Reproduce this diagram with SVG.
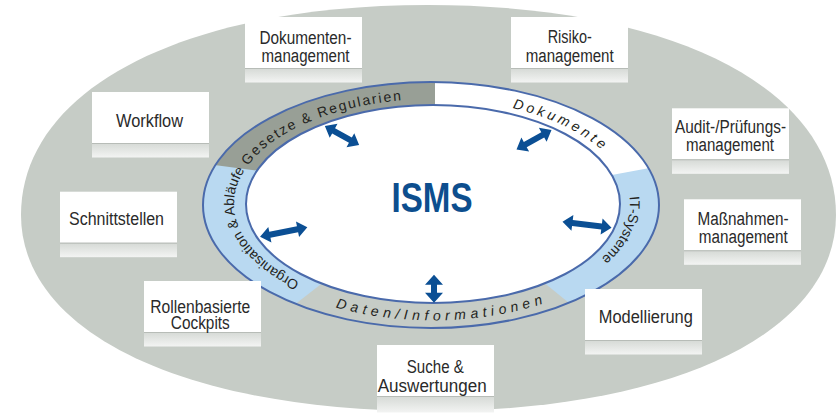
<svg xmlns="http://www.w3.org/2000/svg" width="838" height="417" viewBox="0 0 838 417">
<style>
.box{fill:#ffffff}
.shade{fill:url(#sh)}
.sep{stroke:#b7bcb7;stroke-width:1}
.lbl{font-family:"Liberation Sans",Arial,sans-serif;font-size:18px;fill:#2a2a2a;text-anchor:middle;}
.ring{font-family:"Liberation Sans",Arial,sans-serif;font-size:14px;fill:#231f20}
.arr{fill:#0b4f94}
</style>
<defs>
<linearGradient id="sh" x1="0" y1="0" x2="0" y2="1">
<stop offset="0" stop-color="#d6dad6"/>
<stop offset="1" stop-color="#f3f4f3"/>
</linearGradient>
<clipPath id="outerClip"><ellipse cx="431" cy="205" rx="228" ry="123"/></clipPath>
<path id="pGes" d="M 247.7 165.9 A 198 105 0 0 1 531 113.1"/>
<path id="pDok" d="M 512.5 108.1 A 198 105 0 0 1 627 185.8"/>
<path id="pIT" d="M 629.5 196.7 A 198 105 0 0 1 531 294.9"/>
<path id="pOrg" d="M 299.5 282 A 198 105 0 0 1 269.8 143.8"/>
<path id="pDat" d="M 335.8 307.4 A 212 116 0 0 0 578 289"/>
</defs>

<path id="background" d="M 21 215 C 21 89 183.8 5 428 5 C 673 5 836 89 836 215 C 836 332.6 673.6 411 430 411 C 184.6 411 21 332.6 21 215 Z" fill="#c6ccc6"/>

<g id="ring">
<ellipse cx="431" cy="205" rx="228" ry="123" fill="#b9d9f1"/>
<g clip-path="url(#outerClip)">
<polygon points="435,194 150,156.4 150,60 435,60" fill="#989f96"/>
<polygon points="435,60 435,207.6 700,158.8 700,60" fill="#ffffff"/>
<polygon points="370,246 500,247 600,328 600,360 260,360 260,331.6" fill="#c6ccc6"/>
</g>
<ellipse cx="433" cy="204" rx="187" ry="99" fill="#ffffff"/>
<ellipse cx="431" cy="205" rx="228" ry="123" fill="none" stroke="#4a6aab" stroke-width="2"/>
<ellipse cx="433" cy="204" rx="187" ry="99" fill="none" stroke="#4a6aab" stroke-width="2"/>
<text class="ring" letter-spacing="1.8"><textPath href="#pGes">Gesetze &amp; Regularien</textPath></text>
<text class="ring" letter-spacing="3.4" font-style="italic"><textPath href="#pDok">Dokumente</textPath></text>
<text class="ring" font-size="13.5"><textPath href="#pIT">IT-Systeme</textPath></text>
<text class="ring" font-size="13"><textPath href="#pOrg">Organisation &amp; Abläufe</textPath></text>
<text class="ring" letter-spacing="4.6" font-size="14.5" font-style="italic"><textPath href="#pDat">Daten/Informationen</textPath></text>
</g>

<g id="isms">
<text x="432" y="212" font-family="'Liberation Sans',Arial,sans-serif" font-size="42" font-weight="bold" fill="#0d4e8e" text-anchor="middle" textLength="81" lengthAdjust="spacingAndGlyphs">ISMS</text>
</g>

<g id="connectors">
<polygon class="arr" transform="translate(342,135.5) rotate(29)" points="-19.6,0 -9.6,-8 -9.6,-3 9.6,-3 9.6,-8 19.6,0 9.6,8 9.6,3 -9.6,3 -9.6,8"/>
<polygon class="arr" transform="translate(534,139.7) rotate(-29)" points="-20,0 -10,-8 -10,-3 10,-3 10,-8 20,0 10,8 10,3 -10,3 -10,8"/>
<polygon class="arr" transform="translate(587,224.7) rotate(7)" points="-24.7,0 -14.7,-8 -14.7,-3 14.7,-3 14.7,-8 24.7,0 14.7,8 14.7,3 -14.7,3 -14.7,8"/>
<polygon class="arr" transform="translate(434,288.8) rotate(90)" points="-14,0 -4,-9 -4,-3 4,-3 4,-9 14,0 4,9 4,3 -4,3 -4,9"/>
<polygon class="arr" transform="translate(283.7,232) rotate(-11.2)" points="-24.1,0 -14.1,-8 -14.1,-3 14.1,-3 14.1,-8 24.1,0 14.1,8 14.1,3 -14.1,3 -14.1,8"/>
</g>

<g id="n-dokumentenmanagement" transform="translate(245,17)">
<rect class="box" width="117" height="51"/>
<rect class="shade" y="51.5" width="117" height="14"/>
<line class="sep" x1="0" y1="51.5" x2="117" y2="51.5"/>
<text class="lbl" x="60.5" y="27" textLength="92" lengthAdjust="spacingAndGlyphs">Dokumenten-</text>
<text class="lbl" x="60.5" y="44.5" textLength="88" lengthAdjust="spacingAndGlyphs">management</text>
</g>

<g id="n-risikomanagement" transform="translate(511,17)">
<rect class="box" width="117" height="51"/>
<rect class="shade" y="51.5" width="117" height="14"/>
<line class="sep" x1="0" y1="51.5" x2="117" y2="51.5"/>
<text class="lbl" x="58.7" y="26.3" textLength="44" lengthAdjust="spacingAndGlyphs">Risiko-</text>
<text class="lbl" x="58.7" y="44.5" textLength="88" lengthAdjust="spacingAndGlyphs">management</text>
</g>

<g id="n-workflow" transform="translate(92,92)">
<rect class="box" width="117" height="51"/>
<rect class="shade" y="51.5" width="117" height="14"/>
<line class="sep" x1="0" y1="51.5" x2="117" y2="51.5"/>
<text class="lbl" x="57.5" y="35.3" textLength="67" lengthAdjust="spacingAndGlyphs">Workflow</text>
</g>

<g id="n-audit" transform="translate(672,108.3)">
<rect class="box" width="117" height="51"/>
<rect class="shade" y="51.5" width="117" height="14"/>
<line class="sep" x1="0" y1="51.5" x2="117" y2="51.5"/>
<text class="lbl" x="58.5" y="25" textLength="111" lengthAdjust="spacingAndGlyphs">Audit-/Prüfungs-</text>
<text class="lbl" x="58" y="42.5" textLength="88" lengthAdjust="spacingAndGlyphs">management</text>
</g>

<g id="n-schnittstellen" transform="translate(60,191.7)">
<rect class="box" width="117" height="51"/>
<rect class="shade" y="51.5" width="117" height="14"/>
<line class="sep" x1="0" y1="51.5" x2="117" y2="51.5"/>
<text class="lbl" x="56.5" y="33.3" textLength="95" lengthAdjust="spacingAndGlyphs">Schnittstellen</text>
</g>

<g id="n-massnahmen" transform="translate(684,199.3)">
<rect class="box" width="117" height="51"/>
<rect class="shade" y="51.5" width="117" height="14"/>
<line class="sep" x1="0" y1="51.5" x2="117" y2="51.5"/>
<text class="lbl" x="59" y="26.2" textLength="91" lengthAdjust="spacingAndGlyphs">Maßnahmen-</text>
<text class="lbl" x="59.3" y="44" textLength="89" lengthAdjust="spacingAndGlyphs">management</text>
</g>

<g id="n-rollen" transform="translate(144,281)">
<rect class="box" width="117" height="51"/>
<rect class="shade" y="51.5" width="117" height="14"/>
<line class="sep" x1="0" y1="51.5" x2="117" y2="51.5"/>
<text class="lbl" x="56.3" y="31.7" textLength="100" lengthAdjust="spacingAndGlyphs">Rollenbasierte</text>
<text class="lbl" x="56.3" y="48" textLength="59" lengthAdjust="spacingAndGlyphs">Cockpits</text>
</g>

<g id="n-suche" transform="translate(377,345)">
<rect class="box" width="117" height="51"/>
<rect class="shade" y="51.5" width="117" height="16"/>
<line class="sep" x1="0" y1="51.5" x2="117" y2="51.5"/>
<text class="lbl" x="58.3" y="28.3" textLength="57" lengthAdjust="spacingAndGlyphs">Suche &amp;</text>
<text class="lbl" x="55.2" y="46.7" textLength="109" lengthAdjust="spacingAndGlyphs">Auswertungen</text>
</g>

<g id="n-modellierung" transform="translate(585,289)">
<rect class="box" width="117" height="51"/>
<rect class="shade" y="51.5" width="117" height="14"/>
<line class="sep" x1="0" y1="51.5" x2="117" y2="51.5"/>
<text class="lbl" x="60.8" y="34.3" textLength="94" lengthAdjust="spacingAndGlyphs">Modellierung</text>
</g>
</svg>
